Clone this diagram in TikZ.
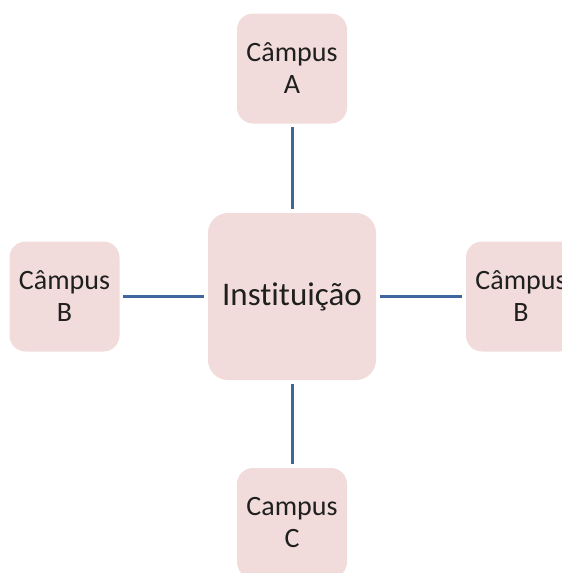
\documentclass[tikz,border=0pt]{standalone}
\usepackage{fontspec}
\setmainfont[Ligatures=NoCommon]{Carlito}
\definecolor{boxfill}{HTML}{F2DCDB}
\definecolor{linkblue}{HTML}{3D679E}
\begin{document}
\begin{tikzpicture}[x=1pt,y=-1pt,
  unit/.style={fill=boxfill,rounded corners=16pt,align=center,
    minimum width=110pt,minimum height=110pt,inner sep=0pt,
    font=\fontsize{28}{32}\selectfont,text=black!88},
  hub/.style={unit,minimum width=168pt,minimum height=167pt,rounded corners=20pt,
    font=\fontsize{33}{38}\selectfont},
  link/.style={draw=linkblue,line width=3pt,shorten <=3.5pt,shorten >=3.5pt}]
  \useasboundingbox (0,0) rectangle (562,573);
  \clip (0,0) rectangle (562,573);
  \node[hub] (inst) at (292,296.5) {Instituição};
  \node[unit] (a) at (292,68.5) {Câmpus\\A};
  \node[unit] (bl) at (64.5,296.5) {Câmpus\\B};
  \node[unit] (br) at (521,296.5) {Câmpus\\B};
  \node[unit] (c) at (292,523) {Campus\\C};
  \draw[link] (a) -- (inst);
  \draw[link] (bl) -- (inst);
  \draw[link] (inst) -- (br);
  \draw[link] (inst) -- (c);
\end{tikzpicture}
\end{document}
